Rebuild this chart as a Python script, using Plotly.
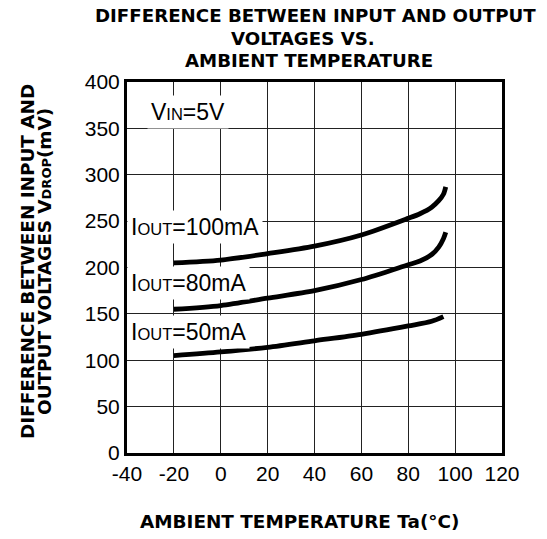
import plotly.graph_objects as go

# ---- data ----
temp_100 = [-20, 0, 20, 40, 60, 80, 85, 90, 93, 95, 96]
vdrop_100 = [205, 208, 215, 223, 235, 253, 258, 265, 272, 279, 287]

temp_80 = [-20, 0, 20, 40, 60, 80, 85, 90, 93, 95, 96]
vdrop_80 = [155, 159, 167, 175, 187, 203, 207, 214, 222, 231, 238]

temp_50 = [-20, 0, 20, 40, 60, 80, 90, 95]
vdrop_50 = [105, 109, 114, 121, 128, 137, 142, 147]

x_ticks = [-40, -20, 0, 20, 40, 60, 80, 100, 120]
y_ticks = [0, 50, 100, 150, 200, 250, 300, 350, 400]

title_lines = ["DIFFERENCE BETWEEN INPUT AND OUTPUT", "VOLTAGES VS.", "AMBIENT TEMPERATURE"]
ytitle_lines = ["DIFFERENCE BETWEEN INPUT AND",
                "OUTPUT VOLTAGES V<span style='font-size:13px'>DROP</span>(mV)"]
xtitle = "AMBIENT TEMPERATURE Ta(°C)"

FONT = "Liberation Sans, Arial, sans-serif"
BOLD = "DejaVu Sans, sans-serif"

# plot area sits at page x 127..502, y 82..453
L, T, PW, PH = 127, 82, 375, 371
def px(xp):
    return (xp - L) / PW
def py(yp):
    return (T + PH - yp) / PH

fig = go.Figure()
for xs, ys in [(temp_100, vdrop_100), (temp_80, vdrop_80), (temp_50, vdrop_50)]:
    fig.add_trace(go.Scatter(x=xs, y=ys, mode="lines",
                             line=dict(color="black", width=4.8, shape="spline", smoothing=0.8),
                             showlegend=False, hoverinfo="skip"))

fig.update_layout(
    width=547, height=539,
    margin=dict(l=L, r=547 - L - PW, t=T, b=539 - T - PH),
    paper_bgcolor="white", plot_bgcolor="white",
    font=dict(family=FONT, size=21, color="black"),
    showlegend=False,
)
fig.update_xaxes(range=[-40, 120], tickvals=x_ticks, ticktext=[str(v) for v in x_ticks],
                 showgrid=True, gridcolor="#222", gridwidth=1, zeroline=False,
                 showline=True, linecolor="black", linewidth=3, mirror=True,
                 ticks="", ticklabelstandoff=0, tickfont=dict(size=21))
fig.update_yaxes(range=[0, 400], tickvals=y_ticks, ticktext=[str(v) for v in y_ticks],
                 showgrid=True, gridcolor="#222", gridwidth=1, zeroline=False,
                 showline=True, linecolor="black", linewidth=3, mirror=True,
                 ticks="", ticklabelstandoff=0, tickfont=dict(size=21))

small = "<span style='font-size:16.5px'>{}</span>"
labels = [
    ("V" + small.format("IN") + "=5V", 368, 20),
    ("I" + small.format("OUT") + "=100mA", 244, 0),
    ("I" + small.format("OUT") + "=80mA", 183, 0),
    ("I" + small.format("OUT") + "=50mA", 131, 0),
]
for txt, yv, shift in labels:
    fig.add_annotation(x=-40, y=yv, xref="x", yref="y", text=txt, showarrow=False,
                       xanchor="left", yanchor="middle", bgcolor="white",
                       borderpad=3, xshift=shift, font=dict(size=23, family=FONT))

for line, cx, cy in zip(title_lines, [315, 303, 309], [15, 38.5, 60.5]):
    fig.add_annotation(x=px(cx), y=py(cy), xref="paper", yref="paper",
                       text="<b>" + line + "</b>", showarrow=False,
                       xanchor="center", yanchor="middle",
                       font=dict(size=18.2, family=BOLD))

fig.add_annotation(x=px(299), y=py(521), xref="paper", yref="paper",
                   text="<b>" + xtitle + "</b>", showarrow=False,
                   xanchor="center", yanchor="middle",
                   font=dict(size=18.4, family=BOLD))

for line, cx in zip(ytitle_lines, [27, 44]):
    fig.add_annotation(x=px(cx), y=py(262), xref="paper", yref="paper",
                       text="<b>" + line + "</b>", showarrow=False,
                       xanchor="center", yanchor="middle", textangle=-90,
                       font=dict(size=18.4, family=BOLD))

fig.write_html("out.html", config={"displayModeBar": False, "staticPlot": True},
               post_script="document.body.style.margin='0px';")
